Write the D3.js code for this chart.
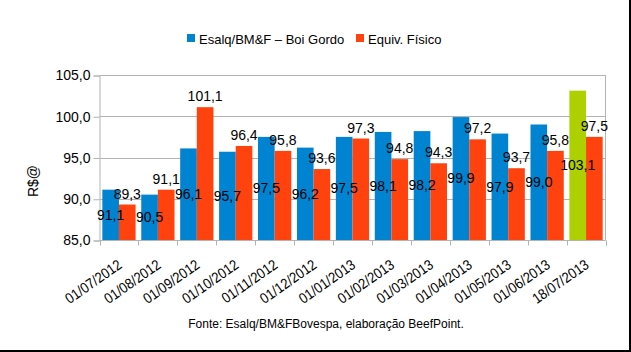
<!DOCTYPE html>
<html><head><meta charset="utf-8">
<script src="https://cdn.jsdelivr.net/npm/d3@7/dist/d3.min.js"></script>
<style>
html,body{margin:0;padding:0;background:#fff;}
svg{display:block;font-family:"Liberation Sans",Arial,sans-serif;}
</style></head>
<body><svg id="c" width="631" height="352"></svg>
<script>
const categories = ["01/07/2012","01/08/2012","01/09/2012","01/10/2012","01/11/2012","01/12/2012","01/01/2013","01/02/2013","01/03/2013","01/04/2013","01/05/2013","01/06/2013","18/07/2013"];
const esalq = [91.1, 90.5, 96.1, 95.7, 97.5, 96.2, 97.5, 98.1, 98.2, 99.9, 97.9, 99.0, 103.1];
const fisico = [89.3, 91.1, 101.1, 96.4, 95.8, 93.6, 97.3, 94.8, 94.3, 97.2, 93.7, 95.8, 97.5];
const seriesNames = ["Esalq/BM&F \u2013 Boi Gordo", "Equiv. F\u00edsico"];
const yTicks = [85, 90, 95, 100, 105];
const caption = "Fonte: Esalq/BM&FBovespa, elabora\u00e7\u00e3o BeefPoint.";
const yTitle = "R$@";

const colors = ["#0084d1", "#ff420e"];
const lastColor = "#aecf00";

const svg = d3.select("#c");
const m = {left: 99.5, right: 605.5, top: 75, bottom: 240};

const x = d3.scaleBand().domain(categories).range([m.left, m.right]).paddingInner(0).paddingOuter(0);
const inner = d3.scaleBand().domain([0,1]).range([0, x.bandwidth()]).paddingInner(0).paddingOuter(0.17);
const y = d3.scaleLinear().domain([85, 105]).range([m.bottom, m.top]);
const fmt = v => d3.format(".1f")(v).replace(".", ",");

// gridlines
svg.append("g").selectAll("line").data(yTicks).join("line")
  .attr("x1", m.left).attr("x2", m.right)
  .attr("y1", d => Math.round(y(d)) + 0.5).attr("y2", d => Math.round(y(d)) + 0.5)
  .attr("stroke", "#b3b3b3").attr("stroke-width", 1);
// right border
svg.append("line").attr("x1", m.right).attr("x2", m.right).attr("y1", m.top).attr("y2", m.bottom)
  .attr("stroke", "#b3b3b3");

// y axis
const yAxis = d3.axisLeft(y).tickValues(yTicks).tickFormat(fmt).tickSize(6).tickPadding(3);
const gy = svg.append("g").attr("transform", `translate(${m.left},0.5)`).call(yAxis);
gy.select(".domain").attr("stroke", "#b3b3b3");
gy.selectAll(".tick line").attr("stroke", "#b3b3b3");
gy.selectAll("text").attr("font-size", 14).attr("fill", "#000").attr("font-family", "Liberation Sans, Arial, sans-serif");

// bars
const groups = svg.append("g").selectAll("g").data(categories).join("g")
  .attr("transform", d => `translate(${x(d)},0)`);
groups.append("rect")
  .attr("x", inner(0)).attr("width", inner.bandwidth())
  .attr("y", (d,i) => y(esalq[i])).attr("height", (d,i) => y(85) - y(esalq[i]))
  .attr("fill", (d,i) => i === categories.length - 1 ? lastColor : colors[0]);
groups.append("rect")
  .attr("x", inner(1)).attr("width", inner.bandwidth())
  .attr("y", (d,i) => y(fisico[i])).attr("height", (d,i) => y(85) - y(fisico[i]))
  .attr("fill", colors[1]);

// x axis
const xAxisLine = svg.append("g").attr("transform", `translate(0,${m.bottom + 0.5})`);
xAxisLine.append("line").attr("x1", m.left).attr("x2", m.right).attr("stroke", "#b3b3b3");
const bounds = categories.map(c => x(c)).concat([m.right]);
xAxisLine.selectAll("line.t").data(bounds).join("line").attr("class","t")
  .attr("x1", d => Math.round(d) + 0.5).attr("x2", d => Math.round(d) + 0.5)
  .attr("y1", 0).attr("y2", 5).attr("stroke", "#b3b3b3");

// x labels
svg.append("g").selectAll("text").data(categories).join("text")
  .attr("transform", d => `translate(${x(d) + x.bandwidth()/2 + 4},${m.bottom + 27}) rotate(-35) scale(0.93,1.05)`)
  .attr("text-anchor", "end").attr("font-size", 14).attr("fill", "#000")
  .text(d => d);

// value labels
groups.append("text")
  .attr("x", inner(0) + inner.bandwidth()/2)
  .attr("y", (d,i) => (y(esalq[i]) + y(85)) / 2)
  .attr("dy", "0.35em").attr("text-anchor", "middle").attr("font-size", 14).attr("fill", "#000")
  .text((d,i) => fmt(esalq[i]));
groups.append("text")
  .attr("x", inner(1) + inner.bandwidth()/2)
  .attr("y", (d,i) => y(fisico[i]) - 6)
  .attr("text-anchor", "middle").attr("font-size", 14).attr("fill", "#000")
  .text((d,i) => fmt(fisico[i]));

// y title
svg.append("text").attr("transform", "translate(38,181) rotate(-90)")
  .attr("text-anchor", "middle").attr("font-size", 14).attr("fill", "#000").text(yTitle);

// legend
const lg = svg.append("g");
const legendItems = [{name: seriesNames[0], color: colors[0], x: 187}, {name: seriesNames[1], color: colors[1], x: 356}];
legendItems.forEach(it => {
  lg.append("rect").attr("x", it.x).attr("y", 34).attr("width", 8).attr("height", 8).attr("fill", it.color);
  lg.append("text").attr("x", it.x + 12).attr("y", 43.5).attr("font-size", 13).attr("fill", "#000").text(it.name);
});

// caption
svg.append("text").attr("x", 326).attr("y", 328).attr("text-anchor", "middle")
  .attr("font-size", 12).attr("fill", "#000").text(caption);

// outer frame (right and bottom)
svg.append("rect").attr("x", 629).attr("y", 0).attr("width", 2).attr("height", 352).attr("fill", "#000");
svg.append("rect").attr("x", 0).attr("y", 350).attr("width", 631).attr("height", 2).attr("fill", "#000");
</script></body></html>
